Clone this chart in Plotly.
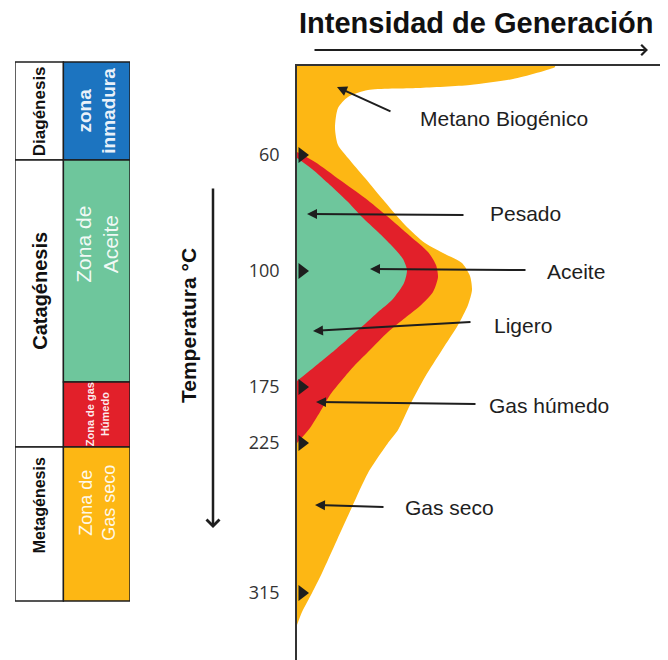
import plotly.graph_objects as go

# ==========================
# DATOS
# ==========================

# eje vertical: profundidad relativa (0 = tope del diagrama), etiquetas en °C
temp_labels = ["60", "100", "175", "225", "315"]
temp_depth = [89, 205, 321, 377, 527]

# envolvente total (gas seco + metano biogénico)
gas_x = [0, 258, 258, 216, 173, 121, 71, 51, 41, 38, 41, 51, 68, 88, 108, 128,
         148, 165, 173, 175, 171, 161, 145, 128, 113, 101, 91, 71, 55, 40, 25,
         15, 5, 0]
gas_y = [0, 0, 1, 13, 19, 22, 24, 31, 42, 62, 79, 92, 112, 136, 159, 177,
         188, 197, 210, 224, 239, 259, 284, 311, 339, 364, 377, 407, 441, 474,
         507, 527, 546, 559]

# gas húmedo
humedo_x = [0, 18, 43, 68, 90, 113, 131, 139, 141, 136, 123, 108, 91, 73, 58,
            45, 33, 23, 13, 0]
humedo_y = [86, 96, 114, 132, 150, 170, 186, 199, 211, 226, 240, 252, 266,
            284, 299, 314, 329, 346, 362, 377]

# aceite
aceite_x = [0, 15, 33, 50, 65, 81, 95, 106, 110, 107, 95, 81, 68, 53, 38, 21,
            5, 0]
aceite_y = [92, 103, 119, 135, 151, 166, 180, 193, 204, 217, 234, 246, 258,
            271, 284, 298, 311, 315]

# tabla de etapas y zonas
etapas = ["Diagénesis", "Catagénesis", "Metagénesis"]
etapa_top = [-4, 94, 381]
etapa_bottom = [94, 381, 535]

zonas = ["zona<br>inmadura", "Zona de<br>Aceite", "Zona de gas<br>Húmedo",
         "Zona de<br>Gas seco"]
zona_top = [-4, 94, 316, 381]
zona_bottom = [94, 316, 381, 535]

# etiquetas y flechas
etiquetas = ["Metano Biogénico", "Pesado", "Aceite", "Ligero", "Gas húmedo",
             "Gas seco"]
etiqueta_x = [121, 191, 248, 195, 190, 106]
etiqueta_y = [52, 147, 205, 259, 339, 441]
flecha_cola_x = [95, 168, 230, 175, 180, 88]
flecha_cola_y = [46, 149, 204, 256, 338, 441]
flecha_punta_x = [40, 10, 73, 16, 19, 18]
flecha_punta_y = [21, 148, 203, 265, 336, 439]

# ==========================
# ESTILO
# ==========================

# la página tiene 8 px de margen, la figura ocupa el resto de la ventana
FW, FH = 660, 652
OFF = 8


def px(x):
    return (x - OFF) / FW


def py(y):
    return 1 - (y - OFF) / FH


YELLOW = "#FDB714"
RED = "#E2202A"
GREEN = "#6EC69C"
BLUE = "#1C74C0"
zona_colors = [BLUE, GREEN, RED, YELLOW]
INK = "#1e1e1e"
SANS = "Liberation Sans, Arial, sans-serif"

fig = go.Figure()

# ==========================
# ZONAS DE GENERACIÓN
# ==========================

for xs, ys, col in [(gas_x, gas_y, YELLOW),
                    (humedo_x, humedo_y, RED),
                    (aceite_x, aceite_y, GREEN)]:
    fig.add_trace(go.Scatter(
        x=xs, y=ys, fill="toself", fillcolor=col, mode="lines",
        line=dict(width=0, color=col, shape="spline", smoothing=0.7),
        hoverinfo="skip"
    ))

# marcas de temperatura
fig.add_trace(go.Scatter(
    x=[5] * len(temp_depth), y=temp_depth, mode="markers",
    marker=dict(symbol="triangle-right", size=14, color=INK),
    cliponaxis=False, hoverinfo="skip"
))

# ==========================
# TABLA
# ==========================

for i in range(len(etapas)):
    fig.add_trace(go.Bar(
        x=["etapa"], y=[etapa_bottom[i] - etapa_top[i]], base=[etapa_top[i]],
        width=[0.842], marker=dict(color="white", line=dict(color=INK, width=1.4)),
        xaxis="x2", yaxis="y2", hoverinfo="skip"
    ))

for i in range(len(zonas)):
    fig.add_trace(go.Bar(
        x=["zona"], y=[zona_bottom[i] - zona_top[i]], base=[zona_top[i]],
        width=[1.158], marker=dict(color=zona_colors[i], line=dict(color=INK, width=1.4)),
        xaxis="x2", yaxis="y2", hoverinfo="skip"
    ))

annotations = []

etapa_size = [17, 20, 16]
etapa_shift = [0, 13, 19]
for i, etapa in enumerate(etapas):
    annotations.append(dict(
        x="etapa", y=(etapa_top[i] + etapa_bottom[i]) / 2, xref="x2", yref="y2",
        text=f"<b>{etapa}</b>", textangle=-90, showarrow=False, yshift=etapa_shift[i],
        font=dict(family=SANS, size=etapa_size[i], color="#111")
    ))

zona_size = [19, 21, 11, 18]
zona_shift = [0, 27, 0, 21]
for i, zona in enumerate(zonas):
    annotations.append(dict(
        x="zona", y=(zona_top[i] + zona_bottom[i]) / 2, xref="x2", yref="y2",
        text=zona if i in (1, 3) else f"<b>{zona}</b>", textangle=-90,
        showarrow=False, yshift=zona_shift[i],
        font=dict(family=SANS, size=zona_size[i], color="rgba(255,255,255,0.92)")
    ))

# ==========================
# ETIQUETAS
# ==========================

for i, txt in enumerate(etiquetas):
    annotations.append(dict(
        x=etiqueta_x[i], y=etiqueta_y[i], xref="x", yref="y", text=txt,
        showarrow=False, xanchor="left", yanchor="middle",
        font=dict(family=SANS, size=21, color=INK)
    ))
    annotations.append(dict(
        x=flecha_punta_x[i], y=flecha_punta_y[i], xref="x", yref="y",
        ax=flecha_cola_x[i], ay=flecha_cola_y[i], axref="x", ayref="y",
        text="", showarrow=True, arrowhead=2, arrowsize=1, arrowwidth=2,
        arrowcolor=INK
    ))

# título y flechas de ejes
annotations.append(dict(
    x=px(476), y=py(23), xref="paper", yref="paper",
    xanchor="center", yanchor="middle",
    text="<b>Intensidad de Generación</b>", showarrow=False,
    font=dict(family=SANS, size=29, color="#111")
))
annotations.append(dict(
    x=px(648), y=py(50), xref="paper", yref="paper", ax=-335, ay=0,
    text="", showarrow=True, arrowhead=4, arrowsize=1, arrowwidth=2,
    arrowcolor=INK
))
annotations.append(dict(
    x=px(188), y=py(326), xref="paper", yref="paper",
    xanchor="center", yanchor="middle",
    text="<b>Temperatura °C</b>", textangle=-90, showarrow=False,
    font=dict(family=SANS, size=21, color="#111")
))
annotations.append(dict(
    x=px(213), y=py(528), xref="paper", yref="paper", ax=0, ay=-341,
    text="", showarrow=True, arrowhead=4, arrowsize=1, arrowwidth=2.5,
    arrowcolor=INK
))

# ==========================
# DISEÑO
# ==========================

fig.update_layout(
    width=FW, height=FH,
    margin=dict(l=0, r=0, t=0, b=0),
    paper_bgcolor="white", plot_bgcolor="white",
    showlegend=False, barmode="overlay",
    xaxis=dict(domain=[px(297), px(660)], range=[0, 363], side="top",
               showline=True, linecolor="#333", linewidth=1.5,
               showticklabels=False, ticks="", showgrid=False, zeroline=False,
               anchor="y"),
    yaxis=dict(domain=[0, py(66)], range=[594, 0], showline=True,
               linecolor="#333", linewidth=1.5, tickvals=temp_depth,
               ticktext=temp_labels, ticks="", ticklabelstandoff=12,
               tickfont=dict(family="Open Sans, sans-serif", size=18, color="#333"),
               showgrid=False, zeroline=False, anchor="x"),
    xaxis2=dict(domain=[px(15), px(130)], type="category",
                categoryarray=["etapa", "zona"], range=[-0.421, 1.579],
                visible=False, anchor="y2"),
    yaxis2=dict(domain=[0, py(56)], range=[594, -10], visible=False,
                anchor="x2"),
    annotations=annotations
)

fig.write_html("out.html")
